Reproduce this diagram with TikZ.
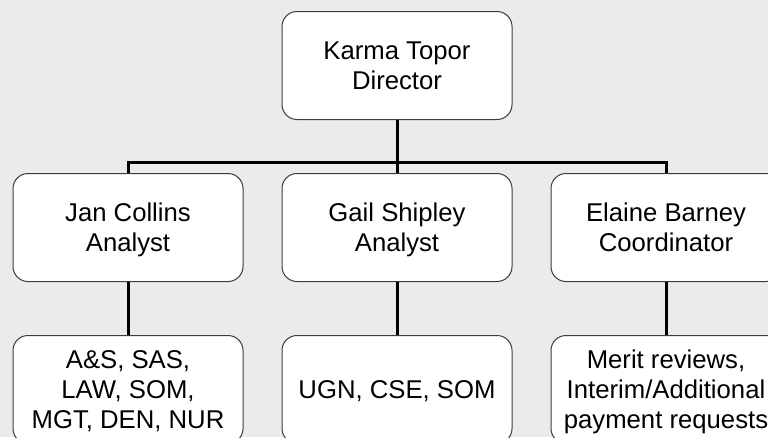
\documentclass[tikz,border=0pt]{standalone}
\usepackage{fontspec}
\setmainfont{Liberation Sans}
\definecolor{bg}{RGB}{235,235,235}
\definecolor{edge}{RGB}{60,60,60}
\newcommand\lnstrut{\rule[-0.212em]{0pt}{1.117em}}
\begin{document}
\begin{tikzpicture}[x=1pt,y=-1pt,
  box/.style={draw=edge, line width=1pt, fill=white, rounded corners=15pt,
    minimum width=230pt, minimum height=108pt, align=center, inner sep=0pt,
    font=\fontsize{25.7}{29.6}\selectfont},
  conn/.style={line width=3pt, black}]
\useasboundingbox (0,0) rectangle (768,437);
\clip (0,0) rectangle (768,437);
\fill[bg] (0,0) rectangle (768,437);
\node[box] (dir) at (397,65.5) {\lnstrut Karma Topor\\Director\lnstrut};
\node[box] (jan) at (128,227.5) {\lnstrut Jan Collins\\Analyst\lnstrut};
\node[box] (gail) at (397,227.5) {\lnstrut Gail Shipley\\Analyst\lnstrut};
\node[box] (elaine) at (666,227.5) {\lnstrut Elaine Barney\\Coordinator\lnstrut};
\node[box] (jd) at (128,389.5) {\lnstrut A\&S, SAS,\\LAW, SOM,\\MGT, DEN, NUR\lnstrut};
\node[box] (gd) at (397,389.5) {\lnstrut UGN, CSE, SOM\lnstrut};
\node[box] (ed) at (666,389.5) {\lnstrut Merit reviews,\\Interim/Additional\\payment requests\lnstrut};
\coordinate (bus) at (397,162);
\draw[conn] (jan.north) |- (bus) -| (elaine.north);
\draw[conn] (dir.south) -- (gail.north);
\draw[conn] (jan.south) -- (jd.north);
\draw[conn] (gail.south) -- (gd.north);
\draw[conn] (elaine.south) -- (ed.north);
\end{tikzpicture}
\end{document}
